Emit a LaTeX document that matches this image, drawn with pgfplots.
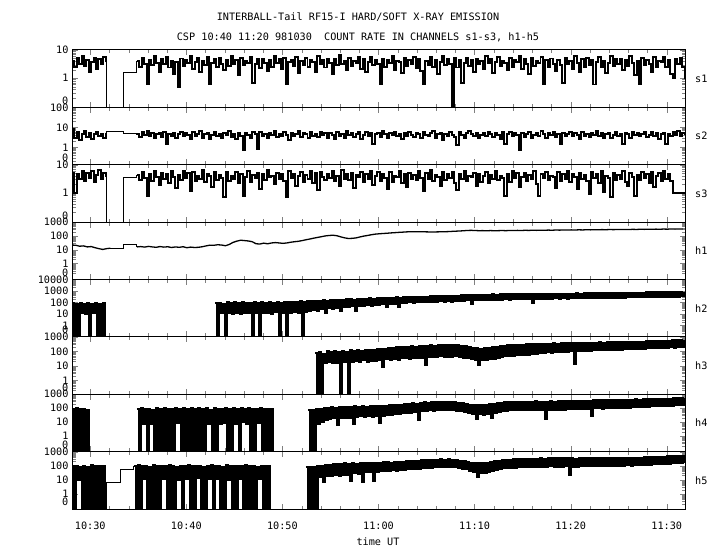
\documentclass[border=0pt]{standalone}
\usepackage{fontspec}
\setmainfont{DejaVu Sans Mono}
\usepackage{pgfplots}
\pgfplotsset{compat=1.18}
\newcommand{\lblfont}{\fontsize{10.2bp}{12bp}\selectfont}
\begin{document}
\begin{tikzpicture}
% ---------------- s1
\begin{axis}[ymode=log, scale only axis, width=613bp, height=57.375bp, anchor=south west,
  xmin=28.1, xmax=91.9, xtick={30,40,50,60,70,80,90}, minor x tick num=4, xticklabels={},
  tick align=inside, major tick length=5.5bp, minor tick length=3.5bp,
  axis line style={line width=1pt}, tick label style={font=\lblfont},
  name=a1, at={(72bp,442.625bp)}, ymin=0.093, ymax=10,
  ytick={1,10}, yticklabels={1,10},
  minor ytick={0.2,0.3,0.4,0.5,0.6,0.7,0.8,0.9,2,3,4,5,6,7,8,9}]
\addplot[const plot, black, line width=2pt, mark=none] table[row sep=\\, header=false, x expr={28.1+0.25*\coordindex}, y index=0] {
4.2\\2.5\\5.1\\3.3\\6.0\\2.8\\4.6\\1.6\\3.9\\5.4\\2.2\\4.8\\3.1\\5.6\\3.7\\};
\addplot[black, line width=1pt, mark=none] coordinates {(31.6,3.7)(31.64,3.7)(31.64,0.03)(33.51,0.03)(33.51,1.55)(34.86,1.55)(34.86,4.0)};
\addplot[const plot, black, line width=2pt, mark=none] table[row sep=\\, header=false, x expr={34.86+0.25*\coordindex}, y index=0] {
4.0\\2.6\\5.2\\3.1\\0.6\\4.4\\2.9\\6.1\\3.5\\1.7\\
4.8\\3.2\\5.5\\2.4\\4.1\\1.4\\3.8\\0.5\\5.0\\2.8\\
4.5\\3.4\\6.3\\2.1\\3.9\\5.1\\1.6\\4.2\\3.0\\5.7\\
0.6\\3.6\\4.9\\2.5\\5.4\\3.3\\1.9\\4.6\\2.7\\6.0\\
3.2\\4.4\\1.3\\5.3\\2.9\\4.0\\3.5\\5.8\\0.7\\3.1\\
4.7\\2.3\\5.0\\3.6\\1.8\\4.3\\2.6\\6.2\\3.4\\4.9\\
2.2\\5.1\\0.6\\3.7\\4.5\\2.8\\5.6\\1.5\\4.1\\3.0\\
5.3\\2.6\\4.6\\3.9\\1.7\\5.9\\3.2\\4.4\\2.4\\5.0\\
3.5\\1.4\\4.8\\2.9\\6.4\\3.3\\4.2\\1.9\\5.2\\2.7\\
4.0\\3.6\\5.5\\2.1\\4.7\\1.6\\3.8\\5.7\\2.9\\4.3\\
3.1\\0.6\\5.0\\2.5\\4.6\\3.4\\6.0\\2.0\\4.1\\3.7\\
1.5\\5.3\\2.8\\4.4\\3.2\\5.8\\2.3\\4.9\\1.8\\0.6\\
4.2\\3.0\\5.6\\2.6\\4.5\\1.4\\3.9\\6.1\\2.9\\4.8\\
3.3\\0.03\\5.2\\2.4\\4.3\\0.7\\3.6\\5.4\\2.7\\4.6\\
1.7\\5.0\\3.1\\4.0\\2.2\\6.3\\3.5\\4.7\\1.5\\3.8\\
5.5\\2.8\\4.2\\3.4\\1.9\\5.1\\2.5\\4.4\\3.7\\6.0\\
2.1\\4.9\\3.2\\1.4\\5.3\\2.7\\4.1\\3.6\\5.7\\0.6\\
4.3\\2.4\\5.0\\3.1\\1.8\\4.6\\2.9\\0.7\\5.4\\3.3\\
4.0\\2.2\\6.1\\3.5\\1.6\\4.8\\2.6\\5.2\\3.0\\4.4\\
0.6\\3.8\\5.6\\2.5\\4.2\\1.5\\3.4\\5.9\\2.8\\4.7\\
3.2\\5.0\\1.9\\4.5\\2.7\\6.2\\3.6\\1.3\\4.1\\0.6\\
5.3\\2.9\\4.6\\3.3\\1.7\\5.5\\2.4\\4.0\\3.7\\5.8\\
2.6\\4.3\\1.4\\1.0\\4.9\\3.1\\5.1\\2.5\\1.0\\1.0\\};
\end{axis}
% ---------------- s2
\begin{axis}[ymode=log, scale only axis, width=613bp, height=57.375bp, anchor=south west,
  xmin=28.1, xmax=91.9, xtick={30,40,50,60,70,80,90}, minor x tick num=4, xticklabels={},
  tick align=inside, major tick length=5.5bp, minor tick length=3.5bp,
  axis line style={line width=1pt}, tick label style={font=\lblfont},
  name=a2, at={(72bp,385.25bp)}, ymin=0.135, ymax=100,
  ytick={1,10,100}, yticklabels={1,10,100},
  minor ytick={0.2,0.3,0.4,0.5,0.6,0.7,0.8,0.9,2,3,4,5,6,7,8,9,20,30,40,50,60,70,80,90}]
\addplot[const plot, black, line width=2pt, mark=none] table[row sep=\\, header=false, x expr={28.1+0.25*\coordindex}, y index=0] {
8.5\\3.1\\5.6\\2.4\\4.8\\6.7\\3.3\\5.2\\2.7\\4.4\\6.1\\3.6\\4.9\\3.0\\5.3\\};
\addplot[black, line width=1pt, mark=none] coordinates {(31.6,5.3)(31.64,5.3)(31.64,6.3)(33.51,6.3)(33.51,4.7)(34.86,4.7)(34.86,4.6)};
\addplot[const plot, black, line width=2pt, mark=none] table[row sep=\\, header=false, x expr={34.86+0.25*\coordindex}, y index=0] {
4.6\\3.2\\5.8\\4.0\\6.5\\3.6\\5.1\\2.9\\4.8\\5.5\\
3.4\\6.0\\1.4\\4.7\\3.9\\5.3\\2.8\\4.4\\6.2\\3.7\\
5.0\\4.1\\2.6\\5.7\\3.5\\4.9\\6.8\\3.1\\4.5\\5.4\\
2.5\\4.2\\5.9\\3.8\\4.6\\3.0\\5.2\\4.0\\6.4\\3.3\\
4.8\\2.7\\5.5\\3.6\\0.7\\5.0\\4.3\\3.1\\6.1\\4.4\\
0.8\\5.6\\3.9\\4.7\\2.9\\5.3\\4.1\\6.6\\3.4\\4.9\\
3.7\\5.8\\4.2\\2.4\\5.1\\3.5\\4.6\\6.9\\3.2\\5.0\\
4.4\\2.8\\5.7\\3.9\\4.8\\3.3\\6.2\\4.0\\5.4\\3.1\\
5.2\\4.1\\2.5\\5.9\\3.6\\4.7\\3.0\\6.5\\4.3\\5.1\\
3.4\\4.9\\5.6\\2.7\\4.2\\6.0\\3.8\\5.3\\1.5\\4.6\\
5.5\\3.2\\6.3\\4.4\\3.0\\5.0\\4.1\\5.7\\3.5\\4.8\\
2.6\\5.4\\3.9\\6.1\\4.3\\3.3\\5.2\\4.7\\2.9\\5.9\\
4.0\\3.6\\5.1\\6.7\\3.1\\4.5\\5.3\\2.4\\4.9\\3.8\\
5.6\\4.2\\3.4\\1.3\\5.8\\4.0\\3.0\\5.2\\6.4\\4.6\\
3.5\\5.0\\2.8\\4.3\\5.5\\3.9\\6.0\\4.4\\3.2\\5.3\\
4.1\\2.7\\5.7\\1.5\\4.8\\6.2\\3.6\\5.1\\4.0\\0.7\\
5.4\\3.3\\4.6\\5.9\\2.9\\4.2\\5.0\\3.7\\6.6\\4.5\\
3.0\\5.2\\4.1\\5.6\\3.4\\4.8\\1.4\\5.3\\3.9\\4.4\\
6.1\\3.5\\5.0\\4.2\\2.6\\5.7\\3.8\\4.9\\3.2\\5.5\\
4.3\\6.3\\3.7\\5.1\\2.8\\4.6\\5.4\\3.1\\4.0\\5.8\\
3.6\\4.7\\1.5\\5.2\\4.4\\3.0\\6.0\\4.1\\5.3\\3.8\\
4.9\\5.6\\3.3\\4.2\\6.2\\3.9\\5.0\\2.7\\4.5\\5.4\\
1.4\\4.8\\3.5\\5.9\\4.1\\6.4\\3.6\\5.2\\4.7\\6.8\\};
\end{axis}
% ---------------- s3
\begin{axis}[ymode=log, scale only axis, width=613bp, height=57.375bp, anchor=south west,
  xmin=28.1, xmax=91.9, xtick={30,40,50,60,70,80,90}, minor x tick num=4, xticklabels={},
  tick align=inside, major tick length=5.5bp, minor tick length=3.5bp,
  axis line style={line width=1pt}, tick label style={font=\lblfont},
  name=a3, at={(72bp,327.875bp)}, ymin=0.09, ymax=10,
  ytick={1,10}, yticklabels={1,10},
  minor ytick={0.2,0.3,0.4,0.5,0.6,0.7,0.8,0.9,2,3,4,5,6,7,8,9}]
\addplot[const plot, black, line width=2pt, mark=none] table[row sep=\\, header=false, x expr={28.1+0.25*\coordindex}, y index=0] {
5.2\\1.0\\4.6\\3.0\\6.1\\2.7\\4.9\\3.5\\5.8\\2.4\\4.3\\6.4\\3.1\\5.0\\3.8\\};
\addplot[black, line width=1pt, mark=none] coordinates {(31.6,3.8)(31.64,3.8)(31.64,0.03)(33.51,0.03)(33.51,3.6)(34.86,3.6)(34.86,4.4)};
\addplot[const plot, black, line width=2pt, mark=none] table[row sep=\\, header=false, x expr={34.86+0.25*\coordindex}, y index=0] {
4.4\\2.9\\5.6\\3.3\\0.8\\4.8\\2.6\\6.2\\3.7\\1.9\\
5.1\\3.0\\4.5\\2.3\\5.8\\3.6\\1.5\\4.2\\2.8\\6.0\\
3.4\\4.9\\1.2\\5.4\\2.7\\4.1\\3.2\\6.5\\2.5\\4.6\\
3.9\\1.6\\5.3\\2.9\\4.4\\3.5\\0.7\\5.7\\2.6\\4.0\\
3.1\\5.5\\2.2\\4.7\\0.8\\3.8\\6.1\\2.4\\4.3\\3.3\\
5.0\\1.4\\4.6\\2.8\\6.3\\3.6\\4.1\\2.0\\5.2\\3.0\\
4.5\\2.7\\0.7\\5.9\\3.4\\4.8\\1.7\\3.9\\5.6\\2.5\\
4.2\\3.1\\6.0\\2.3\\4.9\\1.3\\5.3\\3.7\\2.8\\4.6\\
3.5\\5.8\\2.6\\4.0\\1.8\\6.4\\3.2\\4.7\\2.9\\5.1\\
1.5\\4.3\\3.6\\5.5\\2.4\\4.8\\3.0\\6.1\\1.9\\4.1\\
5.4\\2.7\\4.5\\3.3\\1.4\\5.7\\2.5\\4.0\\3.8\\6.2\\
2.2\\4.6\\1.6\\5.0\\3.1\\4.4\\2.8\\5.9\\3.5\\1.2\\
4.9\\3.0\\6.3\\2.6\\4.2\\3.7\\1.7\\5.3\\2.9\\4.7\\
3.4\\5.6\\2.3\\1.3\\4.5\\3.2\\6.0\\2.7\\4.1\\3.6\\
5.2\\1.8\\4.8\\2.5\\3.9\\5.5\\2.2\\4.4\\3.1\\5.8\\
2.8\\4.0\\3.5\\0.8\\4.6\\2.4\\5.9\\3.3\\4.9\\1.6\\
3.7\\5.1\\2.6\\4.3\\3.0\\6.2\\2.1\\0.8\\4.7\\3.4\\
5.4\\2.9\\4.1\\3.6\\1.5\\5.7\\2.7\\4.5\\3.2\\6.0\\
2.4\\4.8\\3.8\\1.4\\5.2\\3.0\\4.2\\2.6\\0.9\\5.5\\
3.3\\4.6\\2.2\\5.9\\1.1\\4.0\\3.5\\0.7\\5.1\\2.8\\
4.4\\3.1\\6.1\\2.5\\1.7\\5.0\\3.7\\0.8\\4.3\\2.9\\
5.6\\3.4\\4.7\\2.3\\5.3\\1.6\\3.9\\4.9\\2.7\\6.0\\
3.2\\4.5\\2.6\\1.0\\1.0\\1.0\\1.0\\1.0\\1.0\\5.4\\};
\end{axis}
% ---------------- h1
\begin{axis}[ymode=log, scale only axis, width=613bp, height=57.375bp, anchor=south west,
  xmin=28.1, xmax=91.9, xtick={30,40,50,60,70,80,90}, minor x tick num=4, xticklabels={},
  tick align=inside, major tick length=5.5bp, minor tick length=3.5bp,
  axis line style={line width=1pt}, tick label style={font=\lblfont},
  name=a4, at={(72bp,270.5bp)}, ymin=0.07, ymax=1000,
  ytick={1,10,100,1000}, yticklabels={1,10,100,1000},
  minor ytick={0.2,0.3,0.4,0.5,0.6,0.7,0.8,0.9,2,3,4,5,6,7,8,9,20,30,40,50,60,70,80,90,200,300,400,500,600,700,800,900}]
\addplot[black, line width=1.3pt, mark=none] table[row sep=\\, header=false, x expr={28.1+0.4*\coordindex}, y index=0] {
22\\21\\18\\19\\16\\17\\14\\12\\10.5\\12\\13\\};
\addplot[black, line width=1pt, mark=none] coordinates {(32.1,13)(33.51,13)(33.51,23)(34.86,23)(34.86,16)};
\addplot[black, line width=1.3pt, mark=none] table[row sep=\\, header=false, x expr={34.86+0.4*\coordindex}, y index=0] {
16\\17\\15.5\\17.5\\16\\15\\17\\15.5\\16.5\\14.5\\
16\\15\\16.5\\14\\15.5\\14.5\\15\\16.5\\19\\21.5\\
21\\23\\22\\19.5\\24\\34\\42\\49\\46\\43\\
38\\27\\26\\30\\27\\31\\33\\31\\29\\31\\
35\\38\\41\\46\\53\\60\\69\\78\\88\\100\\
108\\112\\104\\86\\73\\65\\67\\72\\84\\97\\
108\\122\\135\\143\\150\\156\\165\\172\\180\\187\\
195\\202\\204\\203\\201\\198\\195\\193\\196\\199\\
202\\206\\214\\221\\228\\238\\249\\254\\246\\240\\
242\\236\\244\\238\\241\\246\\240\\249\\244\\252\\
248\\255\\251\\258\\253\\262\\257\\265\\259\\268\\
263\\271\\266\\274\\269\\277\\272\\280\\275\\284\\
279\\287\\282\\291\\285\\294\\289\\297\\292\\300\\
295\\304\\299\\307\\302\\311\\305\\314\\309\\318\\
312\\321\\316\\};
\end{axis}
% ---------------- h2
\begin{axis}[ymode=log, scale only axis, width=613bp, height=57.375bp, anchor=south west,
  xmin=28.1, xmax=91.9, xtick={30,40,50,60,70,80,90}, minor x tick num=4, xticklabels={},
  tick align=inside, major tick length=5.5bp, minor tick length=3.5bp,
  axis line style={line width=1pt}, tick label style={font=\lblfont},
  name=a5, at={(72bp,213.125bp)}, ymin=0.1, ymax=10000,
  ytick={1,10,100,1000,10000}, yticklabels={1,10,100,1000,10000},
  minor ytick={0.2,0.3,0.4,0.5,0.6,0.7,0.8,0.9,2,3,4,5,6,7,8,9,20,30,40,50,60,70,80,90,200,300,400,500,600,700,800,900,2000,3000,4000,5000,6000,7000,8000,9000}]
\addplot[const plot, black, line width=2.1pt, mark=none] table[row sep=\\, header=false, x expr={28.1+0.2*\coordindex}, y index=0] {
90\\0.03\\80\\0.03\\95\\12\\75\\10\\85\\0.03\\
70\\11\\90\\0.03\\80\\0.03\\88\\0.03\\};
\addplot[const plot, black, line width=2.1pt, mark=none] table[row sep=\\, header=false, x expr={43.0+0.2*\coordindex}, y index=0] {
85\\0.03\\95\\11\\80\\0.03\\100\\12\\90\\10\\
105\\12\\90\\10\\110\\13\\85\\11\\95\\0.03\\
100\\11\\88\\0.03\\105\\12\\92\\12\\108\\10\\
95\\14\\110\\0.03\\98\\12\\115\\0.03\\100\\13\\
112\\15\\105\\11\\120\\0.03\\118\\16\\130\\18\\
125\\22\\140\\20\\135\\26\\150\\12\\145\\30\\
160\\28\\155\\35\\170\\18\\165\\40\\180\\38\\
190\\45\\175\\20\\200\\50\\195\\48\\210\\55\\
220\\52\\215\\60\\240\\58\\230\\70\\250\\42\\
260\\80\\245\\75\\275\\40\\265\\85\\290\\95\\
280\\100\\300\\92\\295\\110\\310\\104\\325\\115\\
320\\108\\340\\120\\335\\112\\355\\125\\350\\118\\
370\\130\\365\\122\\390\\140\\380\\135\\410\\145\\
420\\150\\400\\70\\440\\160\\430\\155\\455\\165\\
470\\170\\450\\160\\490\\175\\480\\168\\500\\180\\
510\\185\\495\\178\\520\\195\\505\\188\\530\\200\\
525\\195\\540\\205\\530\\90\\550\\200\\545\\215\\
555\\210\\540\\220\\565\\215\\550\\225\\570\\218\\
560\\230\\580\\222\\575\\235\\590\\228\\600\\240\\
595\\235\\610\\245\\605\\238\\620\\250\\615\\255\\
630\\248\\640\\260\\625\\255\\650\\265\\645\\258\\
660\\270\\680\\265\\670\\280\\700\\275\\690\\290\\
720\\285\\710\\300\\740\\295\\730\\305\\760\\310\\
750\\300\\780\\315\\770\\320\\800\\310\\790\\325\\
820\\330\\810\\340\\840\\};
\end{axis}
% ---------------- h3
\begin{axis}[ymode=log, scale only axis, width=613bp, height=57.375bp, anchor=south west,
  xmin=28.1, xmax=91.9, xtick={30,40,50,60,70,80,90}, minor x tick num=4, xticklabels={},
  tick align=inside, major tick length=5.5bp, minor tick length=3.5bp,
  axis line style={line width=1pt}, tick label style={font=\lblfont},
  name=a6, at={(72bp,155.75bp)}, ymin=0.11, ymax=1000,
  ytick={1,10,100,1000}, yticklabels={1,10,100,1000},
  minor ytick={0.2,0.3,0.4,0.5,0.6,0.7,0.8,0.9,2,3,4,5,6,7,8,9,20,30,40,50,60,70,80,90,200,300,400,500,600,700,800,900}]
\addplot[const plot, black, line width=2.1pt, mark=none] table[row sep=\\, header=false, x expr={53.4+0.2*\coordindex}, y index=0] {
80\\0.03\\95\\0.03\\70\\16\\100\\18\\85\\15\\
105\\17\\90\\0.03\\110\\20\\95\\0.03\\115\\19\\
100\\22\\120\\18\\110\\24\\125\\20\\118\\23\\
130\\21\\140\\26\\135\\9\\150\\28\\160\\25\\
175\\30\\185\\27\\200\\33\\190\\35\\210\\31\\
220\\36\\205\\34\\235\\38\\225\\12\\245\\40\\
260\\42\\250\\39\\275\\45\\265\\41\\280\\44\\
270\\43\\285\\46\\255\\40\\240\\38\\220\\33\\
190\\30\\170\\26\\160\\11\\150\\24\\165\\25\\
175\\28\\190\\32\\210\\37\\230\\42\\250\\48\\
265\\52\\280\\50\\275\\55\\290\\58\\285\\54\\
300\\60\\310\\66\\320\\70\\315\\75\\330\\80\\
340\\85\\335\\82\\350\\90\\345\\88\\360\\95\\
355\\92\\370\\100\\365\\14\\380\\105\\375\\110\\
390\\115\\385\\108\\400\\120\\395\\118\\410\\125\\
405\\122\\420\\130\\415\\128\\430\\135\\425\\132\\
440\\140\\435\\138\\450\\145\\460\\150\\455\\148\\
470\\155\\480\\160\\500\\165\\490\\170\\520\\175\\
530\\180\\550\\185\\540\\190\\570\\182\\590\\195\\
600\\200\\620\\};
\end{axis}
% ---------------- h4
\begin{axis}[ymode=log, scale only axis, width=613bp, height=57.375bp, anchor=south west,
  xmin=28.1, xmax=91.9, xtick={30,40,50,60,70,80,90}, minor x tick num=4, xticklabels={},
  tick align=inside, major tick length=5.5bp, minor tick length=3.5bp,
  axis line style={line width=1pt}, tick label style={font=\lblfont},
  name=a7, at={(72bp,98.375bp)}, ymin=0.08, ymax=1000,
  ytick={1,10,100,1000}, yticklabels={1,10,100,1000},
  minor ytick={0.2,0.3,0.4,0.5,0.6,0.7,0.8,0.9,2,3,4,5,6,7,8,9,20,30,40,50,60,70,80,90,200,300,400,500,600,700,800,900}]
\addplot[const plot, black, line width=2.1pt, mark=none] table[row sep=\\, header=false, x expr={28.1+0.2*\coordindex}, y index=0] {
90\\0.03\\100\\0.03\\85\\0.03\\95\\0.03\\80\\0.03\\};
\addplot[const plot, black, line width=2.1pt, mark=none] table[row sep=\\, header=false, x expr={34.86+0.2*\coordindex}, y index=0] {
90\\0.03\\100\\8\\85\\0.03\\95\\7\\80\\0.03\\
105\\0.03\\90\\0.03\\100\\0.03\\88\\0.03\\95\\0.03\\
110\\9\\85\\0.03\\100\\0.03\\92\\0.03\\98\\0.03\\
86\\0.03\\104\\0.03\\90\\0.03\\96\\8\\80\\0.03\\
100\\0.03\\94\\7\\88\\9\\102\\0.03\\85\\0.03\\
97\\8\\90\\0.03\\106\\10\\84\\7\\99\\0.03\\
92\\0.03\\88\\9\\101\\0.03\\95\\0.03\\87\\0.03\\
93\\0.03\\};
\addplot[const plot, black, line width=2.1pt, mark=none] table[row sep=\\, header=false, x expr={52.7+0.2*\coordindex}, y index=0] {
70\\0.03\\80\\0.03\\85\\7\\95\\10\\110\\15\\
100\\18\\120\\20\\105\\6\\125\\19\\115\\22\\
130\\21\\120\\8\\135\\24\\125\\26\\140\\23\\
130\\27\\145\\25\\135\\29\\150\\9\\140\\30\\
155\\33\\160\\36\\170\\40\\165\\38\\180\\43\\
190\\45\\200\\48\\220\\52\\210\\14\\240\\60\\
260\\65\\250\\70\\280\\68\\270\\72\\295\\75\\
285\\70\\300\\74\\280\\78\\270\\66\\250\\60\\
220\\55\\200\\45\\180\\40\\170\\16\\165\\38\\
175\\36\\160\\42\\185\\20\\200\\48\\220\\55\\
240\\62\\260\\68\\275\\72\\280\\70\\290\\76\\
285\\74\\295\\78\\300\\75\\290\\80\\305\\77\\
295\\76\\300\\18\\290\\78\\305\\80\\300\\74\\
310\\82\\305\\79\\320\\85\\315\\88\\330\\86\\
340\\90\\335\\92\\350\\95\\345\\30\\360\\98\\
370\\100\\365\\96\\380\\102\\375\\105\\390\\100\\
385\\104\\400\\108\\395\\110\\410\\112\\405\\115\\
420\\118\\415\\120\\430\\125\\440\\130\\450\\135\\
460\\140\\455\\145\\470\\150\\480\\148\\490\\155\\
500\\160\\495\\165\\510\\170\\520\\};
\end{axis}
% ---------------- h5
\begin{axis}[ymode=log, scale only axis, width=613bp, height=57.375bp, anchor=south west,
  xmin=28.1, xmax=91.9, xtick={30,40,50,60,70,80,90}, minor x tick num=4,
  tick align=inside, major tick length=5.5bp, minor tick length=3.5bp,
  axis line style={line width=1pt}, tick label style={font=\lblfont},
  name=a8, at={(72bp,41bp)}, ymin=0.085, ymax=1000,
  ytick={1,10,100,1000}, yticklabels={1,10,100,1000},
  minor ytick={0.2,0.3,0.4,0.5,0.6,0.7,0.8,0.9,2,3,4,5,6,7,8,9,20,30,40,50,60,70,80,90,200,300,400,500,600,700,800,900},
  xticklabels={10:30,10:40,10:50,11:00,11:10,11:20,11:30},
  xticklabel style={yshift=-9.5bp}]
\addplot[const plot, black, line width=2.1pt, mark=none] table[row sep=\\, header=false, x expr={28.1+0.2*\coordindex}, y index=0] {
90\\0.03\\100\\10\\85\\0.03\\95\\0.03\\80\\0.03\\
105\\0.03\\90\\0.03\\95\\0.03\\88\\0.03\\};
\addplot[black, line width=1pt, mark=none] coordinates {(31.64,0.03)(31.64,6.8)(33.1,6.8)(33.1,56)(34.55,56)(34.55,95)};
\addplot[const plot, black, line width=2.1pt, mark=none] table[row sep=\\, header=false, x expr={34.55+0.2*\coordindex}, y index=0] {
95\\0.03\\105\\0.03\\90\\11\\100\\0.03\\85\\0.03\\
110\\0.03\\92\\0.03\\98\\12\\88\\0.03\\104\\0.03\\
96\\0.03\\86\\10\\100\\0.03\\93\\11\\107\\0.03\\
89\\0.03\\101\\13\\94\\0.03\\87\\0.03\\99\\11\\
108\\0.03\\91\\12\\97\\0.03\\85\\0.03\\103\\10\\
95\\0.03\\88\\0.03\\100\\11\\92\\0.03\\106\\0.03\\
90\\0.03\\98\\0.03\\87\\12\\102\\0.03\\94\\0.03\\
89\\0.03\\0.03\\};
\addplot[const plot, black, line width=2.1pt, mark=none] table[row sep=\\, header=false, x expr={52.45+0.2*\coordindex}, y index=0] {
80\\0.03\\85\\0.03\\75\\0.03\\90\\16\\95\\7\\
110\\18\\120\\20\\130\\22\\125\\19\\140\\24\\
145\\23\\135\\8\\150\\30\\140\\28\\155\\7\\
150\\34\\160\\36\\145\\9\\165\\38\\155\\40\\
170\\42\\175\\45\\165\\48\\185\\44\\190\\50\\
195\\52\\200\\55\\210\\60\\205\\58\\220\\62\\
235\\66\\250\\70\\260\\75\\245\\80\\270\\78\\
280\\85\\265\\82\\275\\80\\260\\76\\240\\70\\
220\\62\\200\\55\\180\\45\\160\\35\\150\\17\\
145\\30\\155\\29\\165\\35\\180\\42\\200\\50\\
220\\58\\240\\64\\250\\66\\265\\70\\280\\75\\
290\\78\\300\\80\\310\\84\\305\\82\\320\\86\\
315\\85\\325\\88\\320\\84\\330\\90\\325\\87\\
335\\88\\330\\85\\325\\90\\340\\22\\330\\86\\
320\\88\\335\\92\\330\\90\\340\\95\\335\\93\\
345\\96\\330\\94\\340\\98\\335\\95\\345\\97\\
350\\100\\340\\96\\355\\102\\360\\105\\350\\100\\
365\\108\\375\\112\\370\\110\\390\\118\\400\\122\\
410\\126\\420\\130\\430\\135\\445\\138\\455\\142\\
470\\145\\480\\150\\490\\148\\500\\155\\};
\end{axis}
% ---------------- labels
\foreach \a/\t in {a1/s1,a2/s2,a3/s3,a4/h1,a5/h2,a6/h3,a7/h4,a8/h5}{
  \node[anchor=west, inner sep=0pt, font=\lblfont] at ([xshift=10bp]\a.east) {\t};
  \node[anchor=east, inner sep=0pt, font=\lblfont] at ([xshift=-3.5bp,yshift=6.8bp]\a.south west) {0};
}
\node[anchor=base, inner sep=0pt, font=\lblfont] at (358bp,529.5bp) {INTERBALL-Tail RF15-I HARD/SOFT X-RAY EMISSION};
\node[anchor=base, inner sep=0pt, font=\lblfont] at (358bp,509.5bp) {CSP 10:40 11:20 981030\ \ COUNT RATE IN CHANNELS s1-s3, h1-h5};
\node[anchor=base, inner sep=0pt, font=\lblfont] at (378bp,4.4bp) {time UT};
\pgfresetboundingbox
\path[use as bounding box] (0,0) rectangle (720bp,550bp);
\end{tikzpicture}
\end{document}
